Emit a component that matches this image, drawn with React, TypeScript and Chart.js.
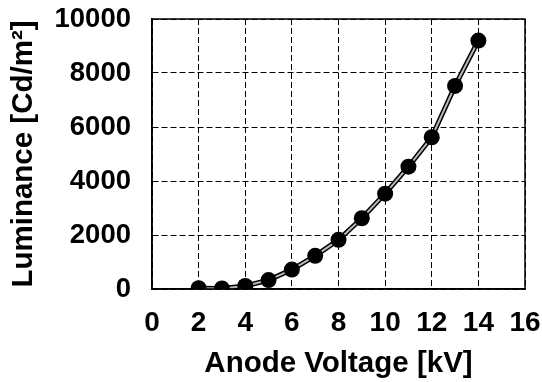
import React, { useEffect, useRef } from "react";
import { Chart, registerables } from "chart.js";

Chart.register(...registerables);

const voltages = [2, 3, 4, 5, 6, 7, 8, 9, 10, 11, 12, 13, 14];
const luminance = [30, 20, 110, 330, 720, 1230, 1820, 2620, 3530, 4530, 5620, 7520, 9200];
const xTitle = "Anode Voltage [kV]";
const yTitle = "Luminance [Cd/m²]";

const framePlugin = {
  id: "frame",
  afterDatasetsDraw(chart: any) {
    const { ctx, chartArea } = chart;
    ctx.save();
    ctx.strokeStyle = "#000";
    ctx.lineWidth = 1.5;
    ctx.setLineDash([]);
    ctx.strokeRect(chartArea.left, chartArea.top, chartArea.right - chartArea.left, chartArea.bottom - chartArea.top);
    ctx.restore();
  },
};

export default function App() {
  const ref = useRef<HTMLCanvasElement>(null);
  useEffect(() => {
    if (!ref.current) return;
    const pts = voltages.map((v, i) => ({ x: v, y: luminance[i] }));
    const font = "'Liberation Sans', Arial, sans-serif";
    const chart = new Chart(ref.current, {
      type: "line",
      data: {
        datasets: [
          {
            data: pts,
            borderColor: "#000",
            borderWidth: 5,
            pointRadius: 0,
            order: 2,
          },
          {
            data: pts,
            borderColor: "#b8b8b8",
            borderWidth: 2,
            pointRadius: 8,
            pointBackgroundColor: "#000",
            pointBorderColor: "#000",
            pointBorderWidth: 0,
            order: 1,
          },
        ],
      },
      options: {
        animation: false,
        responsive: false,
        layout: { padding: { top: 19, right: 17, left: 0, bottom: 0 } },
        plugins: { legend: { display: false }, tooltip: { enabled: false } },
        scales: {
          x: {
            type: "linear",
            min: 0,
            max: 16,
            ticks: { stepSize: 2, color: "#000", padding: 0, callback: (v: any) => String(v), font: { family: font, size: 28, weight: "bold" } },
            grid: { color: "#000", lineWidth: 1, drawTicks: true, tickLength: 17, tickColor: "rgba(0,0,0,0)" },
            border: { display: true, color: "#000", width: 1.5, dash: [6, 3] },
            title: { display: true, text: xTitle, color: "#000", padding: { top: 0, bottom: 0 }, font: { family: font, size: 29.5, weight: "bold" } },
            afterFit(scale: any) {
              scale.height = 93;
            },
          },
          y: {
            min: 0,
            max: 10000,
            ticks: { stepSize: 2000, color: "#000", padding: 0, callback: (v: any) => String(v), font: { family: font, size: 27.5, weight: "bold" } },
            grid: { color: "#000", lineWidth: 1, drawTicks: true, tickLength: 21, tickColor: "rgba(0,0,0,0)" },
            border: { display: true, color: "#000", width: 1.5, dash: [6, 3] },
            title: { display: true, text: yTitle, color: "#000", padding: { top: 6, bottom: 0 }, font: { family: font, size: 29.5, weight: "bold" } },
            afterFit(scale: any) {
              scale.width = 152;
            },
          },
        },
      },
      plugins: [framePlugin],
    });
    return () => chart.destroy();
  }, []);
  return (
    <div style={{ position: "absolute", left: 0, top: 0, width: 542, height: 382, background: "#fff" }}>
      <canvas ref={ref} width={542} height={382} style={{ width: 542, height: 382 }} />
    </div>
  );
}
